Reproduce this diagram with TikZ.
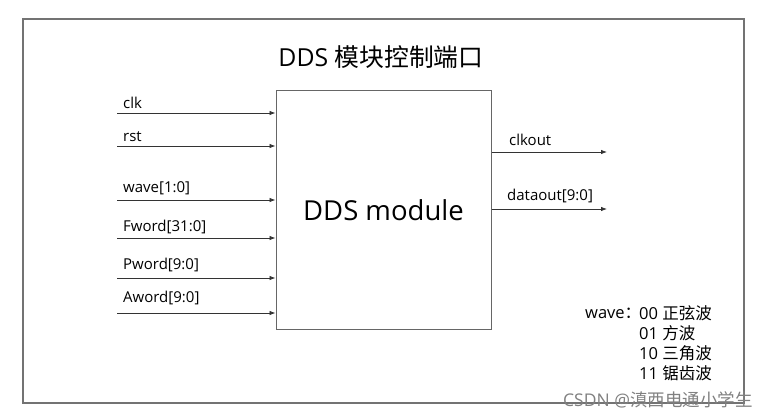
\documentclass[tikz,border=0pt]{standalone}
\usepackage{fontspec}
\setmainfont{Open Sans}
\newfontfamily\cjk{Noto Sans CJK SC}
\usetikzlibrary{arrows.meta}
\tikzset{
  frameline/.style={draw=black!55, line width=1.1pt},
  modbox/.style={draw=black!60, line width=1pt, minimum width=215pt, minimum height=239pt, inner sep=0pt, font=\fontsize{27.5}{31}\selectfont},
  sig/.style={draw=black!80, line width=0.8pt, -{Latex[length=6pt,width=4.5pt]}},
  lbl/.style={anchor=west, inner sep=0pt, font=\fontsize{15}{17}\selectfont},
  legend/.style={anchor=west, inner sep=0pt, font=\fontsize{16.5}{19}\selectfont},
}
\begin{document}
\begin{tikzpicture}[x=1pt, y=-1pt]
\useasboundingbox (0,0) rectangle (769,419);
% outer frame
\draw[frameline] (23,19) rectangle (744,403);
% title
\node[inner sep=0pt, font=\fontsize{24.8}{28}\selectfont] (title) at (381,57) {DDS {\cjk 模块控制端口}};
% module block
\node[modbox] (box) at (383.5,210.5) {DDS module};
% inputs
\foreach \n/\y/\ly/\t in {clk/113/103/clk, rst/146/137/rst, wave/200/188/{wave[1:0]}, fw/238/227/{Fword[31:0]}, pw/278/265/{Pword[9:0]}, aw/313/298/{Aword[9:0]}} {
  \coordinate (in-\n) at (117,\y);
  \node[lbl] (l-\n) at (123,\ly) {\t};
  \draw[sig] (in-\n) -- (in-\n -| box.west);
}
% outputs
\coordinate (out-clk) at (607,152);
\coordinate (out-data) at (607,209);
\node[lbl] (l-clkout) at (509,140) {clkout};
\node[lbl] (l-dataout) at (507,196) {dataout[9:0]};
\draw[sig] (out-clk -| box.east) -- (out-clk);
\draw[sig] (out-data -| box.east) -- (out-data);
% wave encoding legend
\node[legend] (lg0) at (585,313) {wave{\cjk ：}};
\node[legend] (lg1) at (639,313) {00 {\cjk 正弦波}};
\node[legend] (lg2) at (639,333) {01 {\cjk 方波}};
\node[legend] (lg3) at (639,353) {10 {\cjk 三角波}};
\node[legend] (lg4) at (639,373) {11 {\cjk 锯齿波}};
% watermark
\node[anchor=west, inner sep=0pt, text=black!50, font=\fontsize{17.5}{20}\selectfont] (wm) at (563,400) {CSDN @{\cjk 滇西电通小学生}};
\end{tikzpicture}
\end{document}
